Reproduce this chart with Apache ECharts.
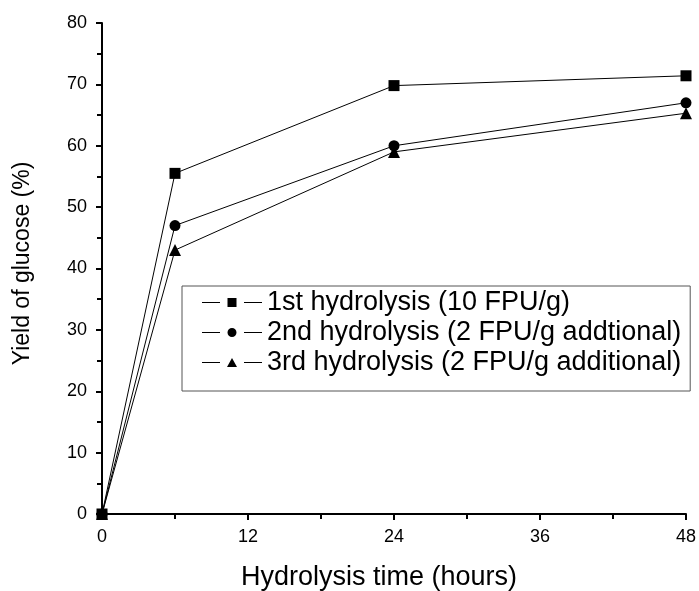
<!DOCTYPE html>
<html>
<head>
<meta charset="utf-8">
<script src="https://cdn.jsdelivr.net/npm/echarts@6/dist/echarts.min.js"></script>
<style>
  html, body { margin: 0; padding: 0; background: #fff; }
  #main { width: 699px; height: 591px; }
</style>
</head>
<body>
<div id="main"></div>
<script>
  // hours
  const hours = [0, 6, 24, 48];
  const first = [0, 55.5, 69.8, 71.4];
  const second = [0, 47, 60, 67];
  const third = [0, 43, 59, 65.3];
  const names = ['1st hydrolysis (10 FPU/g)', '2nd hydrolysis (2 FPU/g addtional)', '3rd hydrolysis (2 FPU/g additional)'];

  const pairs = (ys) => hours.map((h, i) => [h, ys[i]]);
  const font = '"Liberation Sans", Arial, sans-serif';

  // legend icons: line - marker - line
  const lines = 'M0 4 L18 4 L18 5 L0 5 Z M42 4 L60 4 L60 5 L42 5 Z ';
  const icons = [
    lines + 'M25.5 0 L34.5 0 L34.5 9 L25.5 9 Z',
    lines + 'M34.5 4.5 A4.5 4.5 0 1 1 25.5 4.5 A4.5 4.5 0 1 1 34.5 4.5 Z',
    lines + 'M30 0 L35 9 L25 9 Z'
  ];

  let myChart = echarts.init(document.getElementById('main'));
  let mkSeries = (name, ys, symbol, size) => ({
    name: name,
    type: 'line',
    data: pairs(ys),
    symbol: symbol,
    symbolSize: size,
    showAllSymbol: true,
    clip: false,
    lineStyle: { color: '#000', width: 1 },
    itemStyle: { color: '#000' },
    emphasis: { disabled: true }
  });

  let option = {
    animation: false,
    grid: { left: 102, right: 13, top: 23, bottom: 77, outerBoundsMode: 'none' },
    legend: {
      data: names.map((n, i) => ({ name: n, icon: 'path://' + icons[i] })),
      orient: 'vertical',
      left: 182,
      top: 286,
      padding: [3, 9, 15, 20],
      itemGap: 3,
      itemWidth: 60,
      itemHeight: 9,
      borderColor: '#555',
      borderWidth: 1,
      textStyle: { color: '#000', fontSize: 27, fontFamily: font },
      selectedMode: false
    },
    xAxis: {
      type: 'value',
      min: 0, max: 48, interval: 12,
      name: 'Hydrolysis time (hours)',
      nameLocation: 'middle',
      nameGap: 50,
      nameTextStyle: { color: '#000', fontSize: 27, fontFamily: font, padding: [0, 30, 0, 0] },
      axisLine: { lineStyle: { color: '#000', width: 2 } },
      axisTick: { show: true, length: 6, lineStyle: { color: '#000', width: 2 } },
      minorTick: { show: true, splitNumber: 2, length: 5, lineStyle: { color: '#000', width: 2 } },
      axisLabel: { color: '#000', fontSize: 18, fontFamily: font, margin: 14 },
      splitLine: { show: false }
    },
    yAxis: {
      type: 'value',
      min: 0, max: 80, interval: 10,
      name: 'Yield of glucose (%)',
      nameLocation: 'middle',
      nameGap: 68,
      nameTextStyle: { color: '#000', fontSize: 23, fontFamily: font, padding: [0, 0, 0, 10] },
      axisLine: { show: true, lineStyle: { color: '#000', width: 2 } },
      axisTick: { show: true, length: 6, lineStyle: { color: '#000', width: 2 } },
      minorTick: { show: true, splitNumber: 2, length: 5, lineStyle: { color: '#000', width: 2 } },
      axisLabel: { color: '#000', fontSize: 18, fontFamily: font, margin: 15 },
      splitLine: { show: false }
    },
    series: [
      mkSeries(names[0], first, 'rect', 11),
      mkSeries(names[1], second, 'circle', 11),
      mkSeries(names[2], third, 'triangle', 12)
    ]
  };
  myChart.setOption(option);
</script>
</body>
</html>
